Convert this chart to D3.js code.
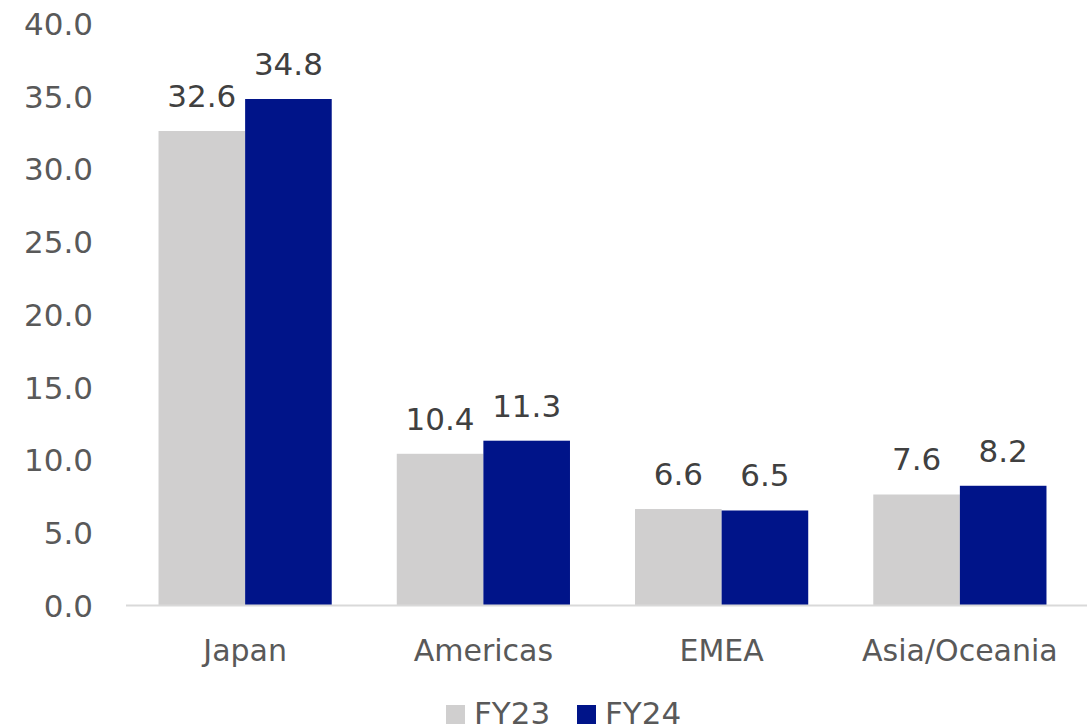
<!DOCTYPE html>
<html>
<head>
<meta charset="utf-8">
<script src="https://cdn.jsdelivr.net/npm/d3@7"></script>
<style>
  html, body { margin: 0; padding: 0; background: #fff; }
  svg { display: block; }
  svg text { font-family: "DejaVu Sans", Verdana, sans-serif; }
</style>
</head>
<body>
<svg id="chart" width="1087" height="726"></svg>
<script>
// Regional values by fiscal year
const categories = ["Japan", "Americas", "EMEA", "Asia/Oceania"];
const seriesNames = ["FY23", "FY24"];
const fy23 = [32.6, 10.4, 6.6, 7.6];
const fy24 = [34.8, 11.3, 6.5, 8.2];
const yTicks = [0, 5, 10, 15, 20, 25, 30, 35, 40];
const colors = ["#d0cfcf", "#001489"];

const rows = categories.map((c, i) => ({ category: c, values: [fy23[i], fy24[i]] }));

const FONT = '"DejaVu Sans", Verdana, sans-serif';
const NUM_SIZE = 31, CAT_SIZE = 30;
const svg = d3.select("#chart");
const plotLeft = 126, plotRight = 1079;

const x = d3.scaleBand().domain(categories).range([plotLeft, plotRight]).paddingInner(0.273).paddingOuter(0.1365);
const xs = d3.scaleBand().domain(seriesNames).range([0, x.bandwidth()]);
const y = d3.scaleLinear().domain([0, 40]).range([605, 23.4]);

// Y axis labels (no axis line)
const yAxis = d3.axisLeft(y).tickValues(yTicks).tickFormat(d3.format(".1f")).tickSize(0).tickPadding(0);
const yg = svg.append("g").attr("transform", "translate(93,0)").call(yAxis)
  .attr("font-family", FONT).attr("font-size", NUM_SIZE);
yg.select(".domain").remove();
yg.selectAll("text")
  .attr("fill", "#595959")
  .attr("dy", "0.36em");

// Bars
const groups = svg.append("g").selectAll("g").data(rows).join("g")
  .attr("transform", d => `translate(${x(d.category)},0)`);

groups.selectAll("rect").data(d => d.values.map((v, i) => ({ key: seriesNames[i], v, i })))
  .join("rect")
  .attr("x", d => xs(d.key))
  .attr("width", xs.bandwidth())
  .attr("y", d => y(d.v))
  .attr("height", d => y(0) - y(d.v))
  .attr("fill", d => colors[d.i]);

// Value labels
groups.selectAll("text").data(d => d.values.map((v, i) => ({ key: seriesNames[i], v, i })))
  .join("text")
  .attr("x", d => xs(d.key) + xs.bandwidth() / 2)
  .attr("y", d => y(d.v) - 24)
  .attr("text-anchor", "middle")
  .attr("fill", "#404040")
  .attr("font-family", FONT)
  .attr("font-size", NUM_SIZE)
  .text(d => d3.format(".1f")(d.v));

// X axis baseline and category labels
svg.append("line")
  .attr("x1", plotLeft).attr("x2", 1087)
  .attr("y1", y(0) + 0.5).attr("y2", y(0) + 0.5)
  .attr("stroke", "#d9d9d9").attr("stroke-width", 2);
const xAxis = d3.axisBottom(x).tickSize(0).tickPadding(0);
const xg = svg.append("g").attr("transform", `translate(0,${y(0)})`).call(xAxis)
  .attr("font-family", FONT).attr("font-size", CAT_SIZE);
xg.select(".domain").remove();
xg.selectAll("text")
  .attr("y", 56)
  .attr("dy", 0)
  .attr("fill", "#595959");

// Legend
const legend = svg.append("g").attr("font-family", FONT).attr("font-size", NUM_SIZE);
const legendItems = [{ name: seriesNames[0], x: 446 }, { name: seriesNames[1], x: 577 }];
legendItems.forEach((it, i) => {
  legend.append("rect").attr("x", it.x).attr("y", 705).attr("width", 19).attr("height", 19).attr("fill", colors[i]);
  legend.append("text").attr("x", it.x + 28).attr("y", 724)
    .attr("fill", "#595959").text(it.name);
});
</script>
</body>
</html>
